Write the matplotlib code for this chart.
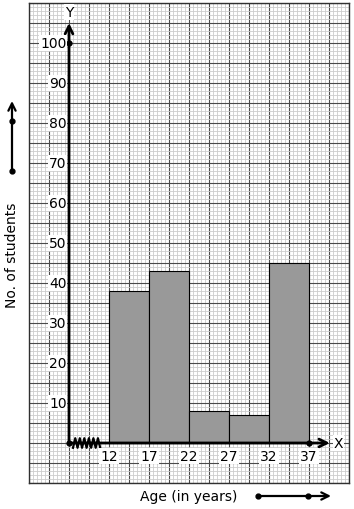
import matplotlib
matplotlib.use('Agg')
import matplotlib.pyplot as plt
import numpy as np

# class edges (age) and frequencies
age_edges = [12, 17, 22, 27, 32, 37]
students = [38, 43, 8, 7, 45]
y_labels = [10, 20, 30, 40, 50, 60, 70, 80, 90, 100]

fig = plt.figure(figsize=(3.54, 5.10), dpi=100)
ax = fig.add_axes([29 / 354, 26 / 510, 320 / 354, 480 / 510])
ax.set_xlim(2, 42)
ax.set_ylim(-10, 110)

# graph paper
ax.set_xticks(np.arange(2, 42.1, 2.5))
ax.set_yticks(np.arange(-10, 110.1, 5))
ax.set_xticks(np.arange(2, 42.1, 0.5), minor=True)
ax.set_yticks(np.arange(-10, 110.1, 1), minor=True)
ax.grid(which='minor', color='#cccccc', lw=0.6)
ax.grid(which='major', color='#4a4a4a', lw=0.8)
ax.tick_params(which='both', length=0, labelbottom=False, labelleft=False)
for s in ax.spines.values():
    s.set_color('#303030')
    s.set_linewidth(1.0)
ax.set_axisbelow(True)

# histogram
widths = np.diff(age_edges)
ax.bar(age_edges[:-1], students, width=widths, align='edge',
       color='#999999', edgecolor='black', lw=0.8, zorder=3)

x0 = 7  # where the y axis sits
# axes with arrows
ax.annotate('', xy=(x0, 105), xytext=(x0, 0),
            arrowprops=dict(arrowstyle='->', lw=2, color='black',
                            mutation_scale=14, shrinkA=0, shrinkB=0), zorder=5)
ax.annotate('', xy=(39.6, 0), xytext=(x0, 0),
            arrowprops=dict(arrowstyle='->', lw=2, color='black',
                            mutation_scale=14, shrinkA=0, shrinkB=0), zorder=5)
ax.plot([x0, x0, age_edges[-1]], [0, 100, 0], 'ko', ms=3.5, zorder=6)

# kink on x axis
zx = np.linspace(7.5, 10.9, 13)
zy = np.array([1.2 if i % 2 else -1.2 for i in range(len(zx))])
ax.plot(zx, zy, color='black', lw=1.6, zorder=6)

box = dict(fc='white', ec='none', pad=0.6)
ax.text(x0, 107.8, 'Y', ha='center', va='center', fontsize=10, bbox=box, zorder=7)
ax.text(40.7, 0, 'X', ha='center', va='center', fontsize=10, bbox=box, zorder=7)
for v in y_labels:
    ax.text(x0 - 0.3, v, str(v), ha='right', va='center', fontsize=10,
            bbox=box, zorder=7)
for e in age_edges:
    ax.text(e, -3.3, str(e), ha='center', va='center', fontsize=10,
            bbox=box, zorder=7)

# axis titles with the little arrows outside the paper
fig.text(189 / 354, 13 / 510, 'Age (in years)', ha='center', va='center', fontsize=10)
fig.text(12 / 354, 255 / 510, 'No. of students', ha='center', va='center',
         rotation=90, fontsize=10)
ax.annotate('', xy=(331, 13), xytext=(258, 13), xycoords='figure pixels',
            arrowprops=dict(arrowstyle='->', lw=1.6, color='black',
                            mutation_scale=13, shrinkA=0, shrinkB=0),
            annotation_clip=False)
ax.annotate('', xy=(12, 408), xytext=(12, 338), xycoords='figure pixels',
            arrowprops=dict(arrowstyle='->', lw=1.6, color='black',
                            mutation_scale=13, shrinkA=0, shrinkB=0),
            annotation_clip=False)
for px, py in [(258, 13), (308, 13), (12, 338), (12, 388)]:
    fig.add_artist(plt.Line2D([px / 354], [py / 510], marker='o', ms=3.5,
                              color='black', transform=fig.transFigure))

fig.savefig('out.png', dpi=100)
